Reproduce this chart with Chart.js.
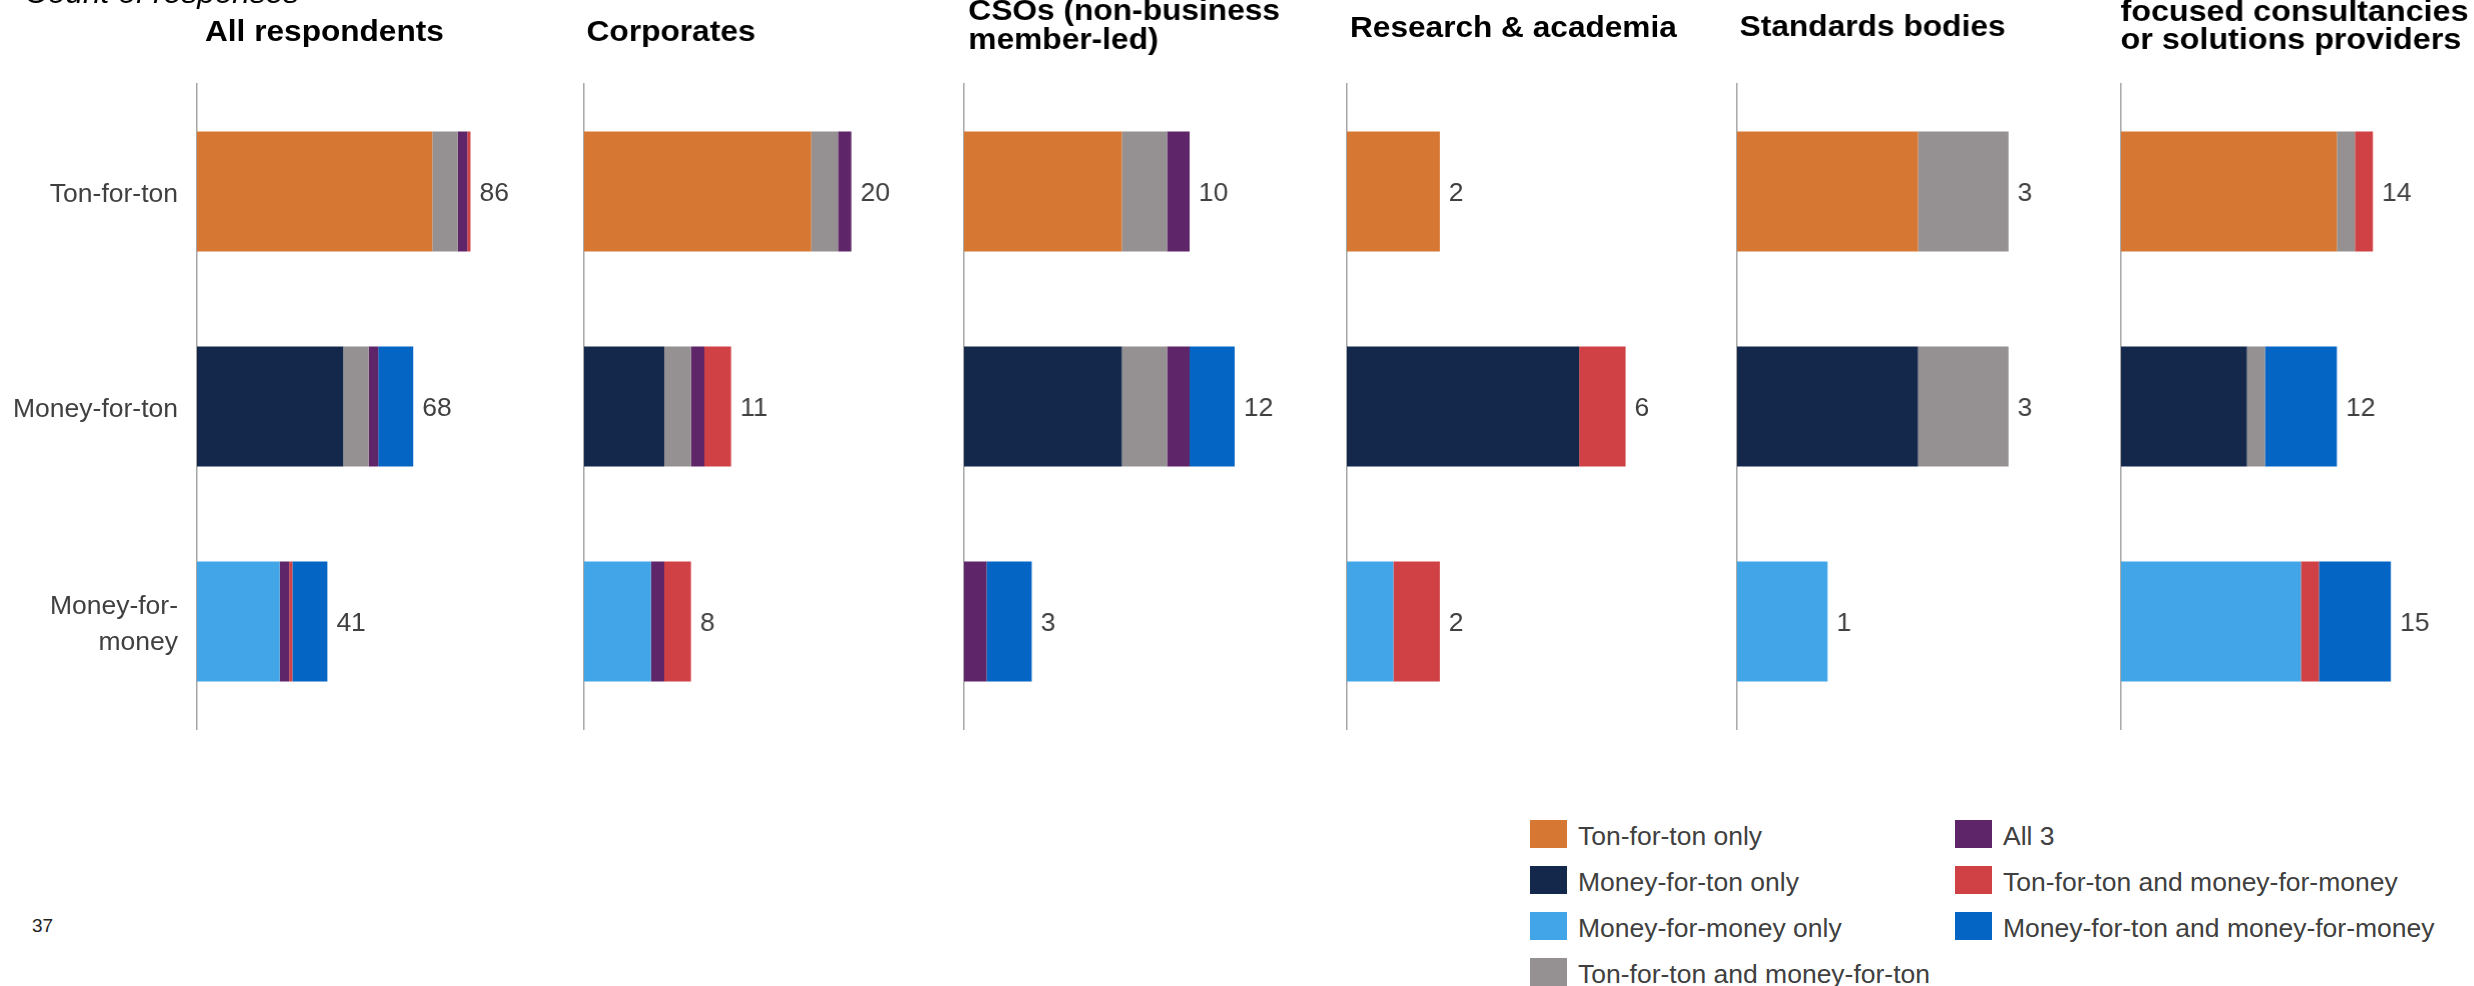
<!DOCTYPE html>
<html>
<head>
<meta charset="utf-8">
<title>Count of responses</title>
<script src="https://cdn.jsdelivr.net/npm/chart.js@4.4.0/dist/chart.umd.min.js"></script>
<style>
    html, body {
        margin: 0;
        padding: 0;
        background: #fff;
        width: 2474px;
        height: 986px;
        overflow: hidden;
        position: relative;
        font-family: "Liberation Sans", Arial, sans-serif;
    }
    canvas { position: absolute; top: 0; }
    .legend-item { position: absolute; height: 29px; white-space: nowrap; }
    .legend-box { position: absolute; left: 0; top: 0; width: 37px; height: 28px; }
    .legend-text { position: absolute; left: 48px; top: 2px; font-size: 26.5px; line-height: 28px; color: #404040; }
    #pageNo { position: absolute; left: 32px; top: 916px; font-size: 19px; line-height: 19px; color: #222; }
</style>
</head>
<body>
<div id="pageNo">37</div>
<div id="legend"></div>

<script>
    // categories (y axis) and series
    var categories = ['Ton-for-ton', 'Money-for-ton', ['Money-for-', 'money']];
    var seriesNames = [
        'Ton-for-ton only',
        'Money-for-ton only',
        'Money-for-money only',
        'Ton-for-ton and money-for-ton',
        'All 3',
        'Ton-for-ton and money-for-money',
        'Money-for-ton and money-for-money'
    ];
    var seriesColors = ['#D67833', '#14284B', '#42A5E7', '#959192', '#5E2569', '#D04145', '#0565C4'];

    var panelTitles = [
        ['All respondents'],
        ['Corporates'],
        ['CSOs (non-business', 'member-led)'],
        ['Research & academia'],
        ['Standards bodies'],
        ['focused consultancies', 'or solutions providers']
    ];

    // one row per series, one value per category
    var allRespondents = [[74, 0, 0], [0, 46, 0], [0, 0, 26], [8, 8, 0], [3, 3, 3], [1, 0, 1], [0, 11, 11]];
    var corporates     = [[17, 0, 0], [0, 6, 0], [0, 0, 5], [2, 2, 0], [1, 1, 1], [0, 2, 2], [0, 0, 0]];
    var csos           = [[7, 0, 0], [0, 7, 0], [0, 0, 0], [2, 2, 0], [1, 1, 1], [0, 0, 0], [0, 2, 2]];
    var research       = [[2, 0, 0], [0, 5, 0], [0, 0, 1], [0, 0, 0], [0, 0, 0], [0, 1, 1], [0, 0, 0]];
    var standards      = [[2, 0, 0], [0, 2, 0], [0, 0, 1], [1, 1, 0], [0, 0, 0], [0, 0, 0], [0, 0, 0]];
    var consultancies  = [[12, 0, 0], [0, 7, 0], [0, 0, 10], [1, 1, 0], [0, 0, 0], [1, 0, 1], [0, 4, 4]];

    var panelData = [allRespondents, corporates, csos, research, standards, consultancies];
    var panelMax = [100, 24, 14, 7, 3.5, 18];

    // layout (pixels)
    var fontFamily = '"Liberation Sans", Arial, sans-serif';
    var layout = [
        { axisX: 197, plotW: 318, titleDx: 8, titleY: [41] },
        { axisX: 584.4, plotW: 320.4, titleDx: 2.5, titleY: [40.7] },
        { axisX: 964, plotW: 315.6, titleDx: 4.3, titleY: [20, 48.5] },
        { axisX: 1347, plotW: 325.2, titleDx: 3, titleY: [36.7] },
        { axisX: 1737.4, plotW: 316.8, titleDx: 2.6, titleY: [35.5] },
        { axisX: 2121.4, plotW: 323.8, titleDx: -0.5, titleY: [20.7, 49.3] }
    ];
    var plotTop = 84, plotBottom = 729, canvasH = 810, rightRoom = 90;

    // draws panel titles (and the cut-off caption on the first panel)
    var panelText = {
        id: 'panelText',
        afterDraw: function (chart, args, opts) {
            var ctx = chart.ctx;
            var left = chart.chartArea.left;
            (opts.items || []).forEach(function (it) {
                ctx.save();
                ctx.fillStyle = it.color || '#000';
                ctx.font = it.font;
                ctx.textBaseline = 'alphabetic';
                ctx.translate(left + it.dx, it.y);
                ctx.scale(it.stretch || 1, 1);
                ctx.fillText(it.text, 0, 0);
                ctx.restore();
            });
        }
    };

    // total count next to each stacked bar
    var totalsLabels = {
        id: 'totalsLabels',
        afterDatasetsDraw: function (chart) {
            var ctx = chart.ctx;
            var xs = chart.scales.x, ys = chart.scales.y;
            ctx.save();
            ctx.font = '26.5px ' + fontFamily;
            ctx.fillStyle = '#404040';
            ctx.textAlign = 'left';
            ctx.textBaseline = 'middle';
            chart.data.labels.forEach(function (lab, i) {
                var total = 0;
                chart.data.datasets.forEach(function (ds) { total += ds.data[i] || 0; });
                ctx.fillText(String(total), xs.getPixelForValue(total) + 9, ys.getPixelForValue(i) + 2);
            });
            ctx.restore();
        }
    };

    function buildPanel(idx) {
        var lay = layout[idx];
        var yW = idx === 0 ? lay.axisX : 20;
        var canvas = document.createElement('canvas');
        var w = yW + lay.plotW + rightRoom;
        canvas.width = w;
        canvas.height = canvasH;
        canvas.style.left = (lay.axisX - yW) + 'px';
        canvas.style.width = w + 'px';
        canvas.style.height = canvasH + 'px';
        document.body.appendChild(canvas);

        var items = panelTitles[idx].map(function (t, k) {
            // the last title is a little wider in the original
            return { text: t, dx: lay.titleDx, y: lay.titleY[k], font: 'bold 29px ' + fontFamily, stretch: idx === 5 ? 1.11 : 1.09 };
        });
        if (idx === 0) {
            items.push({ text: 'Count of responses', dx: 25 - lay.axisX, y: 3, font: 'italic 29px ' + fontFamily, stretch: 1.09 });
        }

        return new Chart(canvas, {
            type: 'bar',
            data: {
                labels: categories,
                datasets: seriesNames.map(function (name, s) {
                    return {
                        label: name,
                        data: panelData[idx][s],
                        backgroundColor: seriesColors[s],
                        borderWidth: 0,
                        barPercentage: 1,
                        categoryPercentage: 0.558
                    };
                })
            },
            options: {
                indexAxis: 'y',
                responsive: false,
                animation: false,
                devicePixelRatio: 1,
                layout: { padding: { top: plotTop, bottom: canvasH - plotBottom, left: 0, right: rightRoom } },
                scales: {
                    x: { stacked: true, min: 0, max: panelMax[idx], display: false },
                    y: {
                        stacked: true,
                        grid: { display: false, drawTicks: false },
                        border: { display: true, color: '#A6A6A6', width: 1.5 },
                        ticks: {
                            display: idx === 0,
                            color: '#404040',
                            padding: 19,
                            labelOffset: 3,
                            font: { family: fontFamily, size: 26.5, lineHeight: 1.35 }
                        },
                        afterFit: function (scale) { scale.width = yW; }
                    }
                },
                plugins: {
                    legend: { display: false },
                    tooltip: { enabled: false },
                    panelText: { items: items }
                }
            },
            plugins: [panelText, totalsLabels]
        });
    }

    function buildLegend() {
        var holder = document.getElementById('legend');
        var colLeft = [1530, 1955];
        seriesNames.forEach(function (name, s) {
            var col = s < 4 ? 0 : 1;
            var row = s < 4 ? s : s - 4;
            var item = document.createElement('div');
            item.className = 'legend-item';
            item.style.left = colLeft[col] + 'px';
            item.style.top = (820 + row * 46) + 'px';
            item.innerHTML = '<div class="legend-box" style="background:' + seriesColors[s] + '"></div>' +
                '<div class="legend-text">' + name + '</div>';
            holder.appendChild(item);
        });
    }

    var charts = {};
    for (var i = 0; i < panelData.length; i++) {
        charts[i] = buildPanel(i);
    }
    buildLegend();
</script>
</body>
</html>
